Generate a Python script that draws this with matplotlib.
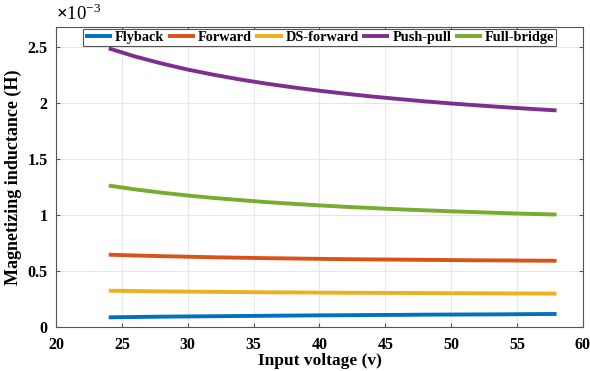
import numpy as np
import matplotlib.pyplot as plt
from matplotlib.ticker import FuncFormatter

# input voltage (V)
vin = [24, 26, 28, 30, 32, 34, 36, 38, 40, 42, 44, 46, 48, 50, 52, 54, 56, 58]

# magnetizing inductance (H)
flyback = [0.085e-3, 0.088e-3, 0.091e-3, 0.093e-3, 0.095e-3, 0.097e-3, 0.099e-3, 0.101e-3, 0.103e-3,
           0.104e-3, 0.106e-3, 0.107e-3, 0.109e-3, 0.110e-3, 0.111e-3, 0.112e-3, 0.114e-3, 0.115e-3]
forward = [0.645e-3, 0.638e-3, 0.632e-3, 0.627e-3, 0.622e-3, 0.618e-3, 0.614e-3, 0.611e-3, 0.608e-3,
           0.605e-3, 0.603e-3, 0.601e-3, 0.599e-3, 0.597e-3, 0.595e-3, 0.594e-3, 0.592e-3, 0.591e-3]
ds_forward = [0.323e-3, 0.320e-3, 0.317e-3, 0.315e-3, 0.313e-3, 0.311e-3, 0.309e-3, 0.308e-3, 0.306e-3,
              0.305e-3, 0.304e-3, 0.303e-3, 0.302e-3, 0.301e-3, 0.300e-3, 0.299e-3, 0.298e-3, 0.297e-3]
push_pull = [2.490e-3, 2.417e-3, 2.355e-3, 2.300e-3, 2.253e-3, 2.211e-3, 2.174e-3, 2.141e-3, 2.111e-3,
             2.084e-3, 2.059e-3, 2.037e-3, 2.016e-3, 1.997e-3, 1.980e-3, 1.964e-3, 1.949e-3, 1.935e-3]
full_bridge = [1.263e-3, 1.229e-3, 1.200e-3, 1.174e-3, 1.152e-3, 1.133e-3, 1.115e-3, 1.100e-3, 1.086e-3,
               1.073e-3, 1.062e-3, 1.051e-3, 1.042e-3, 1.033e-3, 1.025e-3, 1.017e-3, 1.010e-3, 1.004e-3]

names = ['Flyback', 'Forward', 'DS-forward', 'Push-pull', 'Full-bridge']
colors = ['#0072BD', '#D95319', '#EDB120', '#7E2F8E', '#77AC30']

plt.rcParams['font.family'] = 'Liberation Serif'
plt.rcParams['font.weight'] = 'bold'
plt.rcParams['mathtext.fontset'] = 'custom'
plt.rcParams['mathtext.rm'] = 'Liberation Serif'

fig = plt.figure(figsize=(5.9, 3.71), dpi=100)
ax = fig.add_axes([0.095, 0.119, 0.893, 0.808])

for y, n, c in zip([flyback, forward, ds_forward, push_pull, full_bridge], names, colors):
    ax.plot(vin, y, color=c, lw=2.8, label=n, solid_capstyle='butt')

ax.set_xlim(20, 60)
ax.set_ylim(0, 2.68e-3)
ax.set_xticks(np.arange(20, 61, 5))
ax.set_yticks(np.arange(0, 2.6e-3, 0.5e-3))
ax.yaxis.set_major_formatter(FuncFormatter(lambda v, p: '%g' % round(v * 1e3, 3)))
ax.text(0.0, 1.01, r'$\times$10$^{\mathregular{-3}}$', transform=ax.transAxes,
        fontsize=13.5, fontweight='normal', ha='left', va='bottom')

ax.grid(True, color='#e6e6e6', lw=0.8)
ax.tick_params(direction='in', labelsize=11.5, length=3, color='#555555',
               top=True, right=True)
ax.tick_params(axis='x', pad=7)
ax.tick_params(axis='y', pad=6)
for s in ax.spines.values():
    s.set_color('#555555')
    s.set_linewidth(0.8)

ax.set_xlabel('Input voltage (v)', fontsize=12.5, fontweight='bold', labelpad=0)
ax.set_ylabel('Magnetizing inductance (H)', fontsize=13, fontweight='bold', labelpad=4)

leg = ax.legend(loc='upper center', ncol=5, fontsize=10.3, frameon=True, fancybox=False,
                edgecolor='#555555', framealpha=1, borderpad=0.15, handlelength=1.9,
                handletextpad=0.2, columnspacing=0.25, borderaxespad=0.1,
                bbox_to_anchor=(0.5, 1.0))
leg.get_frame().set_linewidth(0.8)

plt.savefig('out.png', dpi=100)
